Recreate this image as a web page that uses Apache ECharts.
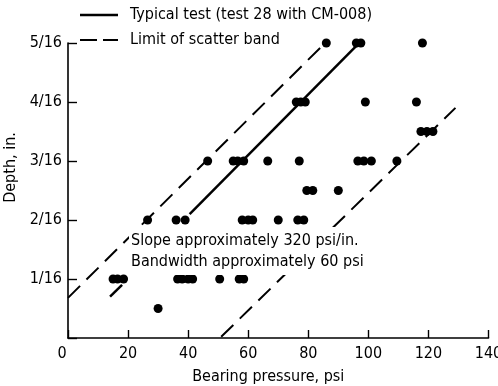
<!DOCTYPE html>
<html>
<head>
<meta charset="utf-8">
<script src="https://cdn.jsdelivr.net/npm/echarts@6/dist/echarts.min.js"></script>
<style>
  html, body { margin: 0; padding: 0; background: #fff; }
  #chart { width: 498px; height: 386px; }
</style>
</head>
<body>
<div id="chart"></div>
<script>
// Depth levels (in sixteenths of an inch) and the bearing pressures (psi) measured at each
const rowDepths = [0.5, 1, 2, 2.5, 3, 3.5, 4, 5];
const rowPressures = [
  [30],
  [15, 16.5, 18.5, 36.5, 38, 40, 41.5, 50.5, 57, 58.5],
  [26.5, 36, 39, 58, 60, 61.5, 70, 76.5, 78.5],
  [79.5, 81.5, 90],
  [46.5, 55, 56.5, 58.5, 66.5, 77, 96.5, 98.5, 101, 109.5],
  [117.5, 119.5, 121.5],
  [76, 77.5, 79, 99, 116],
  [86, 96, 97.5, 118]
];

// Typical test line (test 28 with CM-008), drawn in two pieces
const typicalLower = [[14, 0.7], [18, 0.9]];
const typicalUpper = [[40.5, 2.1], [96, 4.95]];

// Limits of the scatter band
const bandUpper = [[0, 0.68], [85, 4.97]];
const bandLower = [[51, 0.02], [129, 3.9]];

// Axis ticks
const pressureTicks = [0, 20, 40, 60, 80, 100, 120, 140];
const depthTickLabels = ['0', '1/16', '2/16', '3/16', '4/16', '5/16'];

const FONT = "'DejaVu Sans Condensed', 'Liberation Sans Narrow', sans-serif";
const FS = 16;
const TYPICAL = 'Typical test (test 28 with CM-008)';
const BAND = 'Limit of scatter band';
const DASH = [17, 9];

const points = [];
rowDepths.forEach((d, i) => rowPressures[i].forEach(p => points.push([p, d])));

const chart = echarts.init(document.getElementById('chart'), null, { renderer: 'canvas' });

const lineSeries = (name, data, type, width) => ({
  name, type: 'line', data, symbol: 'none', showSymbol: false, silent: true,
  lineStyle: { color: '#000', width, type },
  itemStyle: { color: '#000' },
  z: 2
});

// Key in the top-left corner: a line sample followed by its caption
const keyEntry = (y, caption, width, dash) => [
  {
    type: 'line', silent: true,
    shape: { x1: 80, y1: y, x2: 118, y2: y },
    style: { stroke: '#000', lineWidth: width, lineDash: dash }
  },
  {
    type: 'text', silent: true, x: 130, y: y,
    style: { text: caption, font: FS + 'px ' + FONT, fill: '#000', verticalAlign: 'middle' }
  }
];

chart.setOption({
  animation: false,
  backgroundColor: '#fff',
  textStyle: { fontFamily: FONT, color: '#000' },
  grid: { left: 68, right: 9.5, top: 43, bottom: 48, outerBoundsMode: 'none', containLabel: false },
  xAxis: {
    type: 'value', min: 0, max: 140, interval: 20,
    name: 'Bearing pressure, psi', nameLocation: 'middle', nameGap: 31,
    nameTextStyle: { fontFamily: FONT, fontSize: FS, color: '#000', padding: [0, 20, 0, 0] },
    axisLine: { lineStyle: { color: '#000', width: 1.6 } },
    axisTick: { inside: true, length: 8, lineStyle: { color: '#000', width: 1.4 } },
    axisLabel: {
      margin: 8, fontSize: FS, color: '#000', fontFamily: FONT,
      formatter: v => pressureTicks.includes(v) ? (v === 0 ? '{z|0}' : String(v)) : '',
      rich: { z: { fontSize: FS, fontFamily: FONT, padding: [0, 12, 0, 0] } }
    },
    splitLine: { show: false }
  },
  yAxis: {
    type: 'value', min: 0, max: 5, interval: 1,
    name: 'Depth, in.', nameLocation: 'middle', nameGap: 44, nameRotate: 90,
    nameTextStyle: { fontFamily: FONT, fontSize: FS, color: '#000', padding: [0, 0, 0, 46] },
    axisLine: { lineStyle: { color: '#000', width: 1.6 } },
    axisTick: { inside: true, length: 9, lineStyle: { color: '#000', width: 1.4 } },
    axisLabel: {
      margin: 6, fontSize: FS, color: '#000', fontFamily: FONT,
      formatter: v => v === 0 ? '' : depthTickLabels[v]
    },
    splitLine: { show: false }
  },
  graphic: [
    ...keyEntry(15, TYPICAL, 2.5, null),
    ...keyEntry(40, BAND, 2, [17, 6]),
    {
      // Note on the band; its white box interrupts the lines passing behind it
      type: 'text', left: 129, top: 227, silent: true, z: 100,
      style: {
        text: 'Slope approximately 320 psi/in.\nBandwidth approximately 60 psi',
        font: FS + 'px ' + FONT, fill: '#000', lineHeight: 21,
        backgroundColor: '#fff', padding: [3, 4, 3, 2]
      }
    }
  ],
  series: [
    lineSeries(TYPICAL, typicalLower, 'solid', 2.5),
    lineSeries(TYPICAL, typicalUpper, 'solid', 2.5),
    lineSeries(BAND, bandUpper, DASH, 2),
    lineSeries(BAND, bandLower, DASH, 2),
    {
      type: 'scatter', data: points, symbol: 'circle', symbolSize: 9,
      itemStyle: { color: '#000', opacity: 1 }, silent: true, z: 3
    }
  ]
});
</script>
</body>
</html>
